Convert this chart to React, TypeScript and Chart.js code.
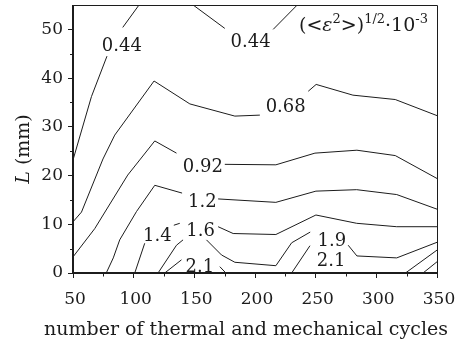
import React, { useEffect, useRef } from 'react';
import { Chart, registerables } from 'chart.js';

Chart.register(...registerables);

const FONT = '"DejaVu Serif", "Liberation Serif", serif';
const INK = '#1c1c1c';

const xTicks = [50, 100, 150, 200, 250, 300, 350];
const xMinorTicks = [75, 125, 175, 225, 275, 325];
const yTicks = [0, 10, 20, 30, 40, 50];
const yMinorTicks = [5, 15, 25, 35, 45];
const xRange = [50, 350];
const yRange = [0, 55];

type Pt = [number, number];
// visible pieces of each contour line: [cycles, L (mm)]; gaps are where the inline labels sit
const contour044a: Pt[][] = [
  [[104.4, 55], [91, 50.4]],
  [[78, 44.5], [65.2, 36.2], [50, 23.2]],
];
const contour044b: Pt[][] = [
  [[149, 55], [175.1, 50.2]],
  [[215, 50.0], [234.8, 55]],
];
const contour068: Pt[][] = [
  [[50, 10.5], [57, 12.5], [74.7, 23.4], [84.4, 28.3], [116.8, 39.4], [146.3, 34.7], [183.4, 32.2], [204, 32.4]],
  [[243.9, 37.3], [250.4, 38.7], [280.7, 36.5], [315.6, 35.6], [350, 32.3]],
];
const contour092: Pt[][] = [
  [[50, 3.3], [67.9, 9.1], [95.1, 20.1], [105, 23.2], [117.4, 27.1], [135.3, 24.6]],
  [[175.1, 22.3], [217.2, 22.2], [249.4, 24.6], [284, 25.2], [315.6, 24.1], [350, 19.4]],
];
const contour12: Pt[][] = [
  [[77.4, 0], [83.2, 3.1], [88.5, 6.8], [102.3, 12.6], [117.4, 18.0], [139.9, 16.4]],
  [[169.6, 15.2], [217.2, 14.5], [250.2, 16.8], [283.8, 17.1], [316.8, 16.1], [350, 13.1]],
];
const contour14: Pt[][] = [
  [[100.9, 0], [109.1, 6.1]],
  [[133.1, 9.8], [138, 10.2]],
  [[169.6, 9.5], [182, 8.1], [217.2, 7.9], [250.2, 11.9], [283.8, 10.2], [316.8, 9.5], [350, 9.5]],
];
const contour16: Pt[][] = [
  [[120.1, 0], [135.3, 5.7], [140.7, 6.8]],
  [[160, 6.8], [172.4, 3.7], [183.4, 2.2], [217.2, 1.5], [230.2, 6.2], [245.5, 8.4]],
  [[276.8, 5.7], [284, 3.5], [316.8, 3.1], [350, 6.3]],
];
const contour21a: Pt[][] = [
  [[125.6, 0], [139.4, 2.7]],
  [[171, 1.3], [176, 0]],
];
const contour21b: Pt[][] = [
  [[230.2, 0], [245.3, 5.6]],
];
const contourBR1: Pt[][] = [[[324, 0], [350, 4.7]]];
const contourBR2: Pt[][] = [[[338.5, 0], [350, 2.3]]];

const contourLines = [
  contour044a, contour044b, contour068, contour092, contour12,
  contour14, contour16, contour21a, contour21b, contourBR1, contourBR2,
];

const labelTexts = ['0.44', '0.44', '0.68', '0.92', '1.2', '1.4', '1.6', '1.9', '2.1', '2.1'];
const labelX = [90.3, 196.4, 225.3, 157.0, 156.6, 119.5, 155.2, 263.4, 154.5, 262.7];
const labelY = [46.9, 47.8, 34.4, 22.1, 14.8, 8.0, 9.0, 6.9, 1.6, 2.7];

const xTitle = 'number of thermal and mechanical cycles';
const yTitleItalic = 'L';
const yTitleRest = ' (mm)';

const decorPlugin = {
  id: 'decor',
  afterDraw(chart: any) {
    const { ctx, chartArea: a, scales } = chart;
    const xs = scales.x;
    const ys = scales.y;
    ctx.save();
    ctx.strokeStyle = INK;
    ctx.fillStyle = INK;

    // frame
    ctx.lineWidth = 1;
    ctx.beginPath();
    ctx.moveTo(a.left, a.top + 0.5);
    ctx.lineTo(a.right + 0.5, a.top + 0.5);
    ctx.lineTo(a.right + 0.5, a.bottom);
    ctx.stroke();
    ctx.lineWidth = 2;
    ctx.beginPath();
    ctx.moveTo(a.left, a.top);
    ctx.lineTo(a.left, a.bottom);
    ctx.lineTo(a.right + 1, a.bottom);
    ctx.stroke();

    // minor ticks
    ctx.lineWidth = 1;
    ctx.beginPath();
    xMinorTicks.forEach((v) => {
      const px = Math.round(xs.getPixelForValue(v)) + 0.5;
      ctx.moveTo(px, a.bottom);
      ctx.lineTo(px, a.bottom + 3.5);
    });
    yMinorTicks.forEach((v) => {
      const py = Math.round(ys.getPixelForValue(v)) + 0.5;
      ctx.moveTo(a.left, py);
      ctx.lineTo(a.left - 3, py);
    });
    ctx.stroke();

    // contour labels
    ctx.font = `18px ${FONT}`;
    ctx.textAlign = 'center';
    ctx.textBaseline = 'alphabetic';
    labelTexts.forEach((t, i) => {
      const px = xs.getPixelForValue(labelX[i]);
      const py = ys.getPixelForValue(labelY[i]);
      ctx.fillText(t, px, py + 6.5);
    });

    // legend text (<ε²>)^{1/2}·10^{-3}
    const main = `19px ${FONT}`;
    const mainIt = `italic 19px ${FONT}`;
    const sup = `13px ${FONT}`;
    const parts: [string, string, number][] = [
      ['(<', main, 0],
      ['ε', mainIt, 0],
      ['2', sup, -8],
      ['>)', main, 0],
      ['1/2', sup, -8],
      ['·10', main, 0],
      ['-3', sup, -8],
    ];
    ctx.textAlign = 'left';
    let lx = 299;
    const lb = 31;
    parts.forEach(([t, f, dy]) => {
      ctx.font = f;
      ctx.fillText(t, lx, lb + dy);
      lx += ctx.measureText(t).width;
    });

    // x axis title
    ctx.font = `19px ${FONT}`;
    ctx.textAlign = 'center';
    ctx.fillText(xTitle, 246, 335);

    // y axis title
    ctx.translate(28.5, 149);
    ctx.rotate(-Math.PI / 2);
    ctx.font = `italic 19px ${FONT}`;
    const w1 = ctx.measureText(yTitleItalic).width;
    ctx.font = `19px ${FONT}`;
    const w2 = ctx.measureText(yTitleRest).width;
    let sx = -(w1 + w2) / 2;
    ctx.textAlign = 'left';
    ctx.font = `italic 19px ${FONT}`;
    ctx.fillText(yTitleItalic, sx, 0);
    sx += w1;
    ctx.font = `19px ${FONT}`;
    ctx.fillText(yTitleRest, sx, 0);
    ctx.restore();
  },
};

export default function App() {
  const canvasRef = useRef<HTMLCanvasElement | null>(null);

  useEffect(() => {
    document.body.style.margin = '0';
    const canvas = canvasRef.current;
    if (!canvas) return;

    const datasets: any[] = [];
    contourLines.forEach((line) => {
      line.forEach((seg) => {
        datasets.push({
          data: seg.map(([x, y]) => ({ x, y })),
          showLine: true,
          borderColor: INK,
          borderWidth: 1,
          pointRadius: 0,
          pointHoverRadius: 0,
          tension: 0,
          fill: false,
        });
      });
    });

    const tickFont = { family: FONT, size: 17 };

    const chart = new Chart(canvas, {
      type: 'scatter',
      data: { datasets },
      options: {
        animation: false,
        responsive: false,
        devicePixelRatio: 1,
        events: [],
        layout: { padding: { top: 5, right: 21, left: 0, bottom: 0 } },
        plugins: {
          legend: { display: false },
          tooltip: { enabled: false },
          title: { display: false },
        },
        scales: {
          x: {
            type: 'linear',
            min: xRange[0],
            max: xRange[1],
            afterBuildTicks: (s: any) => {
              s.ticks = xTicks.map((v) => ({ value: v }));
            },
            afterFit: (s: any) => {
              s.height = 67;
              s.paddingLeft = 0;
              s.paddingRight = 0;
            },
            grid: { drawOnChartArea: false, drawTicks: true, tickLength: 5, color: INK, lineWidth: 1 },
            border: { display: false },
            ticks: {
              font: tickFont,
              color: INK,
              padding: 11,
              labelOffset: 2,
              maxRotation: 0,
              autoSkip: false,
            },
            title: { display: false },
          },
          y: {
            type: 'linear',
            min: yRange[0],
            max: yRange[1],
            afterBuildTicks: (s: any) => {
              s.ticks = yTicks.map((v) => ({ value: v }));
            },
            afterFit: (s: any) => {
              s.width = 73;
              s.paddingTop = 0;
              s.paddingBottom = 0;
            },
            grid: { drawOnChartArea: false, drawTicks: true, tickLength: 5, color: INK, lineWidth: 1 },
            border: { display: false },
            ticks: {
              font: tickFont,
              color: INK,
              padding: 5,
              autoSkip: false,
            },
            title: { display: false },
          },
        },
      },
      plugins: [decorPlugin],
    });

    return () => {
      chart.destroy();
    };
  }, []);

  return (
    <canvas
      ref={canvasRef}
      width={458}
      height={340}
      style={{ display: 'block', width: 458, height: 340 }}
    />
  );
}
